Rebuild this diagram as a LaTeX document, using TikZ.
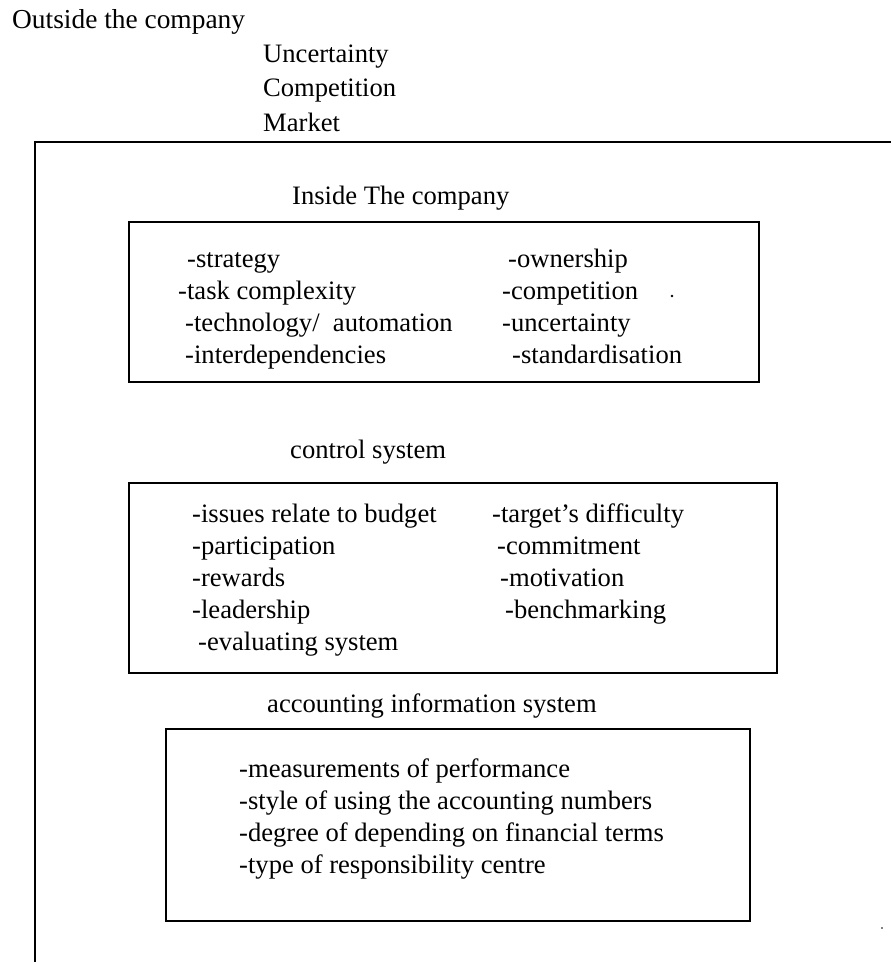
\documentclass[tikz,border=0pt]{standalone}
\usepackage{fontspec}
\setmainfont{Liberation Serif}
\begin{document}
\begin{tikzpicture}[x=1pt, y=-1pt,
  txt/.style={inner sep=0pt, anchor=base west, font=\fontsize{26.6}{32}\selectfont},
  head/.style={txt, font=\fontsize{27.4}{32}\selectfont},
  frameline/.style={line width=2pt, black},
  boxline/.style={line width=2pt, black}]
\useasboundingbox (0,0) rectangle (891,962);

% outside the company
\node[head] (outside) at (12,28) {Outside the company};
\node[txt] (ext1) at (263,62) {Uncertainty};
\node[txt] (ext2) at (263,96.5) {Competition};
\node[txt] (ext3) at (263,131) {Market};

% company frame (open to the right and bottom)
\coordinate (fTR) at (891,142);
\coordinate (fTL) at (35,142);
\coordinate (fBL) at (35,962);
\draw[frameline] (fTR) -- (fTL) -- (fBL);

% inside the company
\node[txt] (inside) at (292,204) {Inside The company};
\draw[boxline] (129,222) rectangle (759,382);
\node[txt] (a1) at (187,267) {-strategy};
\node[txt] (a2) at (178,299) {-task complexity};
\node[txt] (a3) at (185,331) {-technology/\hspace{0.5em}automation};
\node[txt] (a4) at (185,363) {-interdependencies};
\node[txt] (b1) at (508,267) {-ownership};
\node[txt] (b2) at (502,299) {-competition};
\node[txt] (b3) at (502,331) {-uncertainty};
\node[txt] (b4) at (512,363) {-standardisation};
\fill (672,296) circle (1.3pt);

% control system
\node[txt] (ctrl) at (290,458) {control system};
\draw[boxline] (129,483) rectangle (777,673);
\node[txt] (c1) at (192,522) {-issues relate to budget};
\node[txt] (c2) at (192,554) {-participation};
\node[txt] (c3) at (192,586) {-rewards};
\node[txt] (c4) at (192,618) {-leadership};
\node[txt] (c5) at (198,650) {-evaluating system};
\node[txt] (d1) at (492,522) {-target's difficulty};
\node[txt] (d2) at (497,554) {-commitment};
\node[txt] (d3) at (500,586) {-motivation};
\node[txt] (d4) at (505,618) {-benchmarking};

% accounting information system
\node[txt] (ais) at (267,712) {accounting information system};
\draw[boxline] (166,729) rectangle (750,921);
\node[txt] (e1) at (239,777) {-measurements of performance};
\node[txt] (e2) at (239,809) {-style of using the accounting numbers};
\node[txt] (e3) at (239,841) {-degree of depending on financial terms};
\node[txt] (e4) at (239,873) {-type of responsibility centre};
\fill (882,928) circle (0.9pt);
\end{tikzpicture}
\end{document}
